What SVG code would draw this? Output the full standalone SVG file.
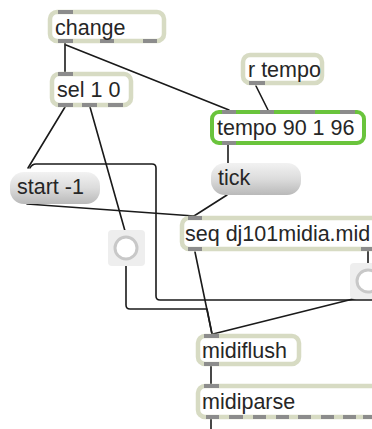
<svg xmlns="http://www.w3.org/2000/svg" width="372" height="429" viewBox="0 0 372 429">
  <defs>
    <linearGradient id="msgFill" x1="0" y1="0" x2="0" y2="1">
      <stop offset="0" stop-color="#f2f2f2"/>
      <stop offset="0.5" stop-color="#dcdcdc"/>
      <stop offset="1" stop-color="#b9b9b9"/>
    </linearGradient>
  </defs>
  <style>
    .obj { fill: #ffffff; stroke: #d7dbc3; stroke-width: 4.5; }
    .sel { fill: #ffffff; stroke: #6ac43c; stroke-width: 4; }
    .msg { fill: url(#msgFill); stroke: none; }
    .port { fill: #8c8c8c; }
    .tgl { fill: #eeeeee; }
    .ring { fill: #ffffff; stroke: #c8c8c8; stroke-width: 3; }
    .lbl { font-family: "Liberation Sans", Arial, sans-serif; font-size: 21.5px; fill: #262626; }
    .cord { fill: none; stroke: #1a1a1a; stroke-width: 1.6; stroke-linecap: round; stroke-linejoin: round; }
  </style>

  <rect width="372" height="429" fill="#ffffff"/>

  <!-- patch cords -->
  <g id="cords">
    <path class="cord" d="M65 43 L65 72"/>
    <path class="cord" d="M66 45 L229 110"/>
    <path class="cord" d="M256 86 L268 110"/>
    <path class="cord" d="M228 145 L228 163"/>
    <path class="cord" d="M227 195 L194 216"/>
    <path class="cord" d="M65 107 L28 168"/>
    <path class="cord" d="M90 107 L125 231"/>
    <path class="cord" d="M27 204 L194 216"/>
    <path class="cord" d="M372 300 H160 Q156 300 156 296 V168 Q156 164 152 164 H36 Q32 164 30 168"/>
    <path class="cord" d="M126 266 V305 Q126 309 130 309 H207 L212 334"/>
    <path class="cord" d="M195 252 L212 334"/>
    <path class="cord" d="M213 334 L369 295"/>
    <path class="cord" d="M368 251 L368 263"/>
    <path class="cord" d="M211 366 L211 384"/>
    <path class="cord" d="M211 419 L211 429"/>
  </g>

  <!-- change -->
  <g id="change">
    <rect class="obj" x="50" y="12" width="114" height="29" rx="7"/>
    <rect class="port" x="58" y="10" width="15" height="4"/>
    <rect class="port" x="58" y="39" width="15" height="4"/>
    <rect class="port" x="100" y="39" width="14" height="4"/>
    <rect class="port" x="143" y="39" width="14" height="4"/>
    <text class="lbl" x="55" y="35">change</text>
  </g>

  <!-- sel 1 0 -->
  <g id="sel">
    <rect class="obj" x="52" y="74" width="79" height="31" rx="7"/>
    <rect class="port" x="58" y="72" width="15" height="4"/>
    <rect class="port" x="58" y="103" width="15" height="4"/>
    <rect class="port" x="82" y="103" width="15" height="4"/>
    <rect class="port" x="108" y="103" width="15" height="4"/>
    <text class="lbl" x="57" y="97">sel 1 0</text>
  </g>

  <!-- r tempo -->
  <g id="rtempo">
    <rect class="obj" x="243" y="55" width="79" height="28" rx="7"/>
    <rect class="port" x="249" y="81" width="16" height="4"/>
    <text class="lbl" x="248" y="77">r tempo</text>
  </g>

  <!-- tempo 90 1 96 -->
  <g id="tempo">
    <rect class="sel" x="212" y="112" width="152" height="31" rx="7"/>
    <rect class="port" x="222" y="110" width="14" height="4"/>
    <rect class="port" x="260" y="110" width="14" height="4"/>
    <rect class="port" x="300" y="110" width="15" height="4"/>
    <rect class="port" x="340" y="110" width="15" height="4"/>
    <rect class="port" x="222" y="141" width="14" height="4"/>
    <text class="lbl" x="217" y="135">tempo 90 1 96</text>
  </g>

  <!-- tick -->
  <g id="tick">
    <rect class="msg" x="211" y="163" width="90" height="32" rx="14"/>
    <text class="lbl" x="218" y="185">tick</text>
  </g>

  <!-- start -1 -->
  <g id="start">
    <rect class="msg" x="10" y="172" width="90" height="32" rx="14"/>
    <text class="lbl" x="17" y="194">start -1</text>
  </g>

  <!-- toggle (left) -->
  <g id="toggle1">
    <rect class="tgl" x="108" y="230" width="37" height="36" rx="4"/>
    <circle class="ring" cx="126" cy="248" r="11"/>
  </g>

  <!-- seq dj101midia.mid -->
  <g id="seq">
    <rect class="obj" x="182" y="218" width="200" height="31" rx="7"/>
    <rect class="port" x="188" y="216" width="14" height="4"/>
    <rect class="port" x="188" y="247" width="14" height="4"/>
    <rect class="port" x="361" y="247" width="14" height="4"/>
    <text class="lbl" x="185" y="241">seq dj101midia.mid</text>
  </g>

  <!-- toggle (right) -->
  <g id="toggle2">
    <rect class="tgl" x="350" y="263" width="37" height="36" rx="4"/>
    <circle class="ring" cx="368" cy="281" r="11"/>
  </g>

  <!-- midiflush -->
  <g id="midiflush">
    <rect class="obj" x="198" y="336" width="101" height="28" rx="7"/>
    <rect class="port" x="204" y="334" width="15" height="4"/>
    <rect class="port" x="204" y="362" width="15" height="4"/>
    <text class="lbl" x="202" y="358">midiflush</text>
  </g>

  <!-- midiparse -->
  <g id="midiparse">
    <rect class="obj" x="198" y="386" width="190" height="31" rx="7"/>
    <rect class="port" x="204" y="384" width="15" height="4"/>
    <rect class="port" x="206" y="415" width="13" height="4"/>
    <rect class="port" x="229" y="415" width="14" height="4"/>
    <rect class="port" x="253" y="415" width="13" height="4"/>
    <rect class="port" x="276" y="415" width="13" height="4"/>
    <rect class="port" x="298" y="415" width="13" height="4"/>
    <rect class="port" x="321" y="415" width="13" height="4"/>
    <rect class="port" x="343" y="415" width="13" height="4"/>
    <rect class="port" x="363" y="415" width="9" height="4"/>
    <text class="lbl" x="202" y="409">midiparse</text>
  </g>
</svg>
